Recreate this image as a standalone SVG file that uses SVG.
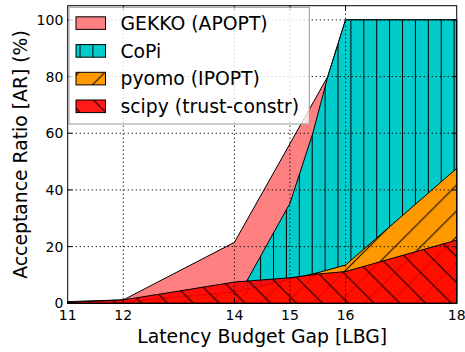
<svg xmlns="http://www.w3.org/2000/svg" xmlns:xlink="http://www.w3.org/1999/xlink" width="465" height="352" viewBox="0 0 465 352">
<style>
text{font-family:"DejaVu Sans","Liberation Sans",sans-serif;fill:#000}
.tk{font-size:14px}
.lab{font-size:18.8px}
.leg{font-size:18.8px}
.grid line{stroke:#000;stroke-width:1;stroke-dasharray:1.2 2.8}
.ticks line{stroke:#000;stroke-width:1}
.edge{fill:none;stroke:#000;stroke-width:1;stroke-linejoin:round}
</style>
<defs>
<pattern id="hv" patternUnits="userSpaceOnUse" x="2.1" y="0" width="12.9" height="12.9">
<line x1="0.5" y1="-1" x2="0.5" y2="14" stroke="#000" stroke-width="1"/>
</pattern>
<pattern id="hb" patternUnits="userSpaceOnUse" x="19.2" y="0" width="25.8" height="25.8">
<path d="M0,0L25.8,25.8M-2,23.8L2,27.8M23.8,-2L27.8,2" stroke="#000" stroke-width="1"/>
</pattern>
<pattern id="hf" patternUnits="userSpaceOnUse" x="22.5" y="0" width="25.8" height="25.8">
<path d="M0,25.8L25.8,0M-2,2L2,-2M23.8,27.8L27.8,23.8" stroke="#000" stroke-width="1"/>
</pattern>
</defs>
<rect width="465" height="352" fill="#fff"/>

<g id="series-gekko">
<polygon points="67.7,301.6 123.27,299.9 234.41,242.36 327.77,76.56 345.56,19.87 456.7,19.87 456.7,303.3 67.7,303.3" fill="#ff8080" stroke="#000" stroke-width="1" stroke-linejoin="round"/>
</g>
<g id="series-copi">
<polygon points="67.7,303.3 234.41,303.3 289.98,203.25 312.8,133.24 327.77,76.56 345.56,19.87 456.7,19.87 456.7,303.3" fill="#00cccc"/>
<polygon points="67.7,303.3 234.41,303.3 289.98,203.25 312.8,133.24 327.77,76.56 345.56,19.87 456.7,19.87 456.7,303.3" fill="url(#hv)" stroke="#000" stroke-width="1" stroke-linejoin="round"/>
</g>
<g id="series-pyomo">
<polygon points="67.7,303.3 123.27,301.9 234.41,291.96 289.98,279.2 317.77,272.69 345.56,265.04 456.7,168.39 456.7,303.3" fill="#ff9900"/>
<polygon points="67.7,303.3 123.27,301.9 234.41,291.96 289.98,279.2 317.77,272.69 345.56,265.04 456.7,168.39 456.7,303.3" fill="url(#hf)" stroke="#000" stroke-width="1" stroke-linejoin="round"/>
</g>
<g id="series-scipy">
<polygon points="67.7,302.45 123.27,299.9 178.84,291.1 234.41,282.04 289.98,277.79 317.77,274.11 345.56,271.56 456.7,240.1 456.7,303.3 67.7,303.3" fill="#ff0000" fill-opacity="0.9"/>
<polygon points="67.7,302.45 123.27,299.9 178.84,291.1 234.41,282.04 289.98,277.79 317.77,274.11 345.56,271.56 456.7,240.1 456.7,303.3 67.7,303.3" fill="url(#hb)" stroke="#000" stroke-width="1" stroke-linejoin="round"/>
</g>

<g id="grid" class="grid">
<line x1="123.27" y1="5.7" x2="123.27" y2="303.3"/>
<line x1="234.41" y1="5.7" x2="234.41" y2="303.3"/>
<line x1="289.98" y1="5.7" x2="289.98" y2="303.3"/>
<line x1="345.56" y1="5.7" x2="345.56" y2="303.3"/>
<line x1="67.7" y1="246.61" x2="456.7" y2="246.61"/>
<line x1="67.7" y1="189.93" x2="456.7" y2="189.93"/>
<line x1="67.7" y1="133.24" x2="456.7" y2="133.24"/>
<line x1="67.7" y1="76.56" x2="456.7" y2="76.56"/>
<line x1="67.7" y1="19.87" x2="456.7" y2="19.87"/>
</g>

<g id="axes">
<rect x="67.7" y="5.7" width="389" height="297.6" fill="none" stroke="#000" stroke-width="1"/>
<g class="ticks">
<line x1="67.7" y1="303.3" x2="72.2" y2="303.3"/>
<line x1="67.7" y1="246.61" x2="72.2" y2="246.61"/>
<line x1="67.7" y1="189.93" x2="72.2" y2="189.93"/>
<line x1="67.7" y1="133.24" x2="72.2" y2="133.24"/>
<line x1="67.7" y1="76.56" x2="72.2" y2="76.56"/>
<line x1="67.7" y1="19.87" x2="72.2" y2="19.87"/>
<line x1="456.7" y1="246.61" x2="452.2" y2="246.61"/>
<line x1="456.7" y1="189.93" x2="452.2" y2="189.93"/>
<line x1="456.7" y1="133.24" x2="452.2" y2="133.24"/>
<line x1="456.7" y1="76.56" x2="452.2" y2="76.56"/>
<line x1="456.7" y1="19.87" x2="452.2" y2="19.87"/>
<line x1="123.27" y1="303.3" x2="123.27" y2="298.8"/>
<line x1="234.41" y1="303.3" x2="234.41" y2="298.8"/>
<line x1="289.98" y1="303.3" x2="289.98" y2="298.8"/>
<line x1="345.56" y1="303.3" x2="345.56" y2="298.8"/>
<line x1="123.27" y1="5.7" x2="123.27" y2="10.2"/>
<line x1="234.41" y1="5.7" x2="234.41" y2="10.2"/>
<line x1="289.98" y1="5.7" x2="289.98" y2="10.2"/>
<line x1="345.56" y1="5.7" x2="345.56" y2="10.2"/>
</g>
<g class="tk" text-anchor="end">
<text x="63.3" y="308.4">0</text>
<text x="63.3" y="251.7">20</text>
<text x="63.3" y="195">40</text>
<text x="63.3" y="138.3">60</text>
<text x="63.3" y="81.7">80</text>
<text x="63.3" y="25">100</text>
</g>
<g class="tk" text-anchor="middle">
<text x="67.7" y="319.5">11</text>
<text x="123.27" y="319.5">12</text>
<text x="234.41" y="319.5">14</text>
<text x="289.98" y="319.5">15</text>
<text x="345.56" y="319.5">16</text>
<text x="456.7" y="319.5">18</text>
</g>
<text class="lab" x="262.2" y="342.5" text-anchor="middle">Latency Budget Gap [LBG]</text>
<text class="lab" transform="translate(26.7,154.5) rotate(-90)" text-anchor="middle">Acceptance Ratio [AR] (%)</text>
</g>

<g id="legend">
<rect x="69" y="7.3" width="240.3" height="116.7" fill="#fff" fill-opacity="0.8" stroke="#999" stroke-width="1"/>
<rect x="76" y="16.8" width="29.5" height="12.6" fill="#ff8080" stroke="#000" stroke-width="1"/>
<rect x="76" y="44.6" width="29.5" height="12.6" fill="#00cccc"/>
<rect x="76" y="44.6" width="29.5" height="12.6" fill="url(#hv)" stroke="#000" stroke-width="1"/>
<rect x="76" y="72.3" width="29.5" height="12.6" fill="#ff9900"/>
<rect x="76" y="72.3" width="29.5" height="12.6" fill="url(#hf)" stroke="#000" stroke-width="1"/>
<rect x="76" y="100" width="29.5" height="12.6" fill="#ff0000" fill-opacity="0.9"/>
<rect x="76" y="100" width="29.5" height="12.6" fill="url(#hb)" stroke="#000" stroke-width="1"/>
<text class="leg" x="120.5" y="29.9">GEKKO (APOPT)</text>
<text class="leg" x="120.5" y="57.6">CoPi</text>
<text class="leg" x="120.5" y="85.3">pyomo (IPOPT)</text>
<text class="leg" x="120.5" y="113">scipy (trust-constr)</text>
</g>
</svg>
